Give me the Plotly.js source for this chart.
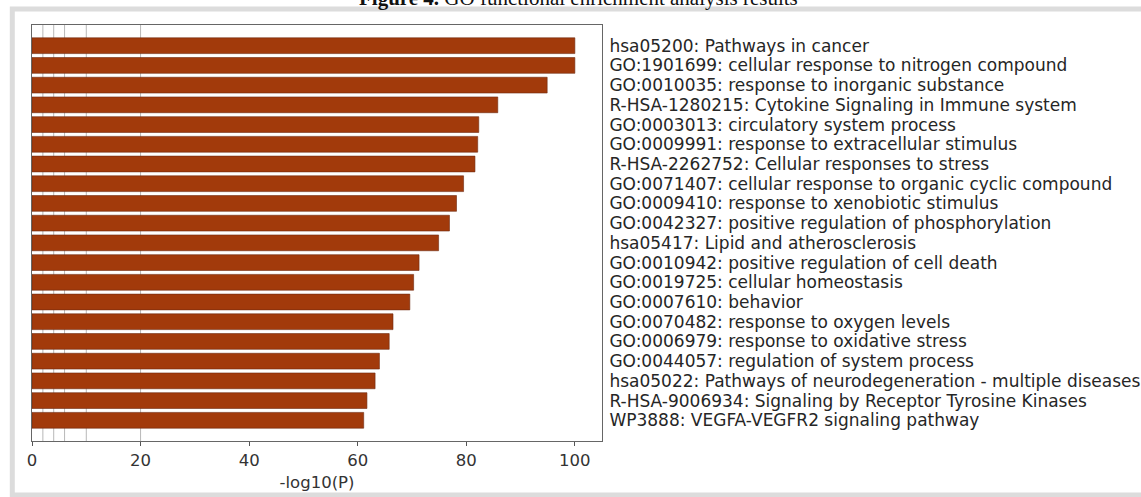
<!DOCTYPE html>
<html>
<head>
<meta charset="utf-8">
<script src="https://cdn.plot.ly/plotly-3.0.1.min.js"></script>
<style>
  html, body { margin: 0; padding: 0; background: #ffffff; }
  #chart { width: 1141px; height: 497px; }
</style>
</head>
<body>
<div id="chart"></div>
<script>
// Enrichment terms (top to bottom)
const terms = [
  "hsa05200: Pathways in cancer",
  "GO:1901699: cellular response to nitrogen compound",
  "GO:0010035: response to inorganic substance",
  "R-HSA-1280215: Cytokine Signaling in Immune system",
  "GO:0003013: circulatory system process",
  "GO:0009991: response to extracellular stimulus",
  "R-HSA-2262752: Cellular responses to stress",
  "GO:0071407: cellular response to organic cyclic compound",
  "GO:0009410: response to xenobiotic stimulus",
  "GO:0042327: positive regulation of phosphorylation",
  "hsa05417: Lipid and atherosclerosis",
  "GO:0010942: positive regulation of cell death",
  "GO:0019725: cellular homeostasis",
  "GO:0007610: behavior",
  "GO:0070482: response to oxygen levels",
  "GO:0006979: response to oxidative stress",
  "GO:0044057: regulation of system process",
  "hsa05022: Pathways of neurodegeneration - multiple diseases",
  "R-HSA-9006934: Signaling by Receptor Tyrosine Kinases",
  "WP3888: VEGFA-VEGFR2 signaling pathway"
];
// -log10(P) values
const negLogP = [100, 100, 94.9, 85.8, 82.3, 82.1, 81.6, 79.5, 78.2, 76.9,
                 74.9, 71.3, 70.3, 69.6, 66.5, 65.8, 64.0, 63.2, 61.7, 61.1];
// x tick values and threshold reference lines
const xTicks = [0, 20, 40, 60, 80, 100];
const thresholds = [2, 4, 6, 10, 20];

const W = 1141, H = 497;
const mL = 31.7, mR = 539.3, mT = 25, mB = 56;
const plotH = H - mT - mB;

const shapes = thresholds.map(t => ({
  type: 'line', layer: 'below', xref: 'x', yref: 'paper',
  x0: t, x1: t, y0: 0, y1: 1,
  line: { color: '#b8b8b8', width: 1 }
}));
// outer light grey frame of the figure panel
shapes.push({
  type: 'rect', xref: 'paper', yref: 'paper', layer: 'below',
  x0: (12 - mL) / (W - mL - mR), x1: (1150 - mL) / (W - mL - mR),
  y0: 1 + (mT - 495) / plotH, y1: 1 + (mT - 9) / plotH,
  line: { color: '#dcdcdc', width: 5 }, fillcolor: 'rgba(0,0,0,0)'
});

const trace = {
  type: 'bar', orientation: 'h',
  x: negLogP, y: terms,
  marker: { color: '#a23a0b', line: { color: '#6e2a10', width: 0.6 } },
  width: 0.8,
  hoverinfo: 'x+y'
};

const layout = {
  width: W, height: H,
  margin: { l: mL, r: mR, t: mT, b: mB, pad: 0 },
  paper_bgcolor: '#ffffff', plot_bgcolor: '#ffffff',
  font: { family: 'DejaVu Sans', size: 17, color: '#262626' },
  showlegend: false,
  bargap: 0.2,
  xaxis: {
    range: [0, 105], tickvals: xTicks, ticktext: xTicks.map(String),
    ticks: 'outside', ticklen: 4, tickcolor: '#555', tickwidth: 1,
    showline: true, linecolor: '#666', linewidth: 1, mirror: true,
    showgrid: false, zeroline: false,
    tickfont: { family: 'DejaVu Sans', size: 16.5, color: '#333' },
    title: { text: '-log10(P)', standoff: 7,
             font: { family: 'DejaVu Sans', size: 16.5, color: '#333' } }
  },
  yaxis: {
    type: 'category', side: 'right',
    tickmode: 'array', tickvals: terms, ticktext: terms,
    range: [terms.length - 1 + 1.05, -1.05],
    ticks: '', ticklabelstandoff: 3,
    showline: true, linecolor: '#666', linewidth: 1, mirror: true,
    showgrid: false, zeroline: false,
    tickfont: { family: 'DejaVu Sans', size: 17, color: '#262626' }
  },
  shapes: shapes,
  annotations: [{
    xref: 'paper', yref: 'paper',
    x: (578 - mL) / (W - mL - mR), y: 1 + (mT - (-2)) / plotH,
    xanchor: 'center', yanchor: 'middle', showarrow: false,
    text: '<b>Figure 4.</b> GO functional enrichment analysis results',
    font: { family: 'Liberation Serif', size: 21, color: '#111' }
  }]
};

Plotly.newPlot('chart', [trace], layout, { displayModeBar: false, staticPlot: true });
</script>
</body>
</html>
